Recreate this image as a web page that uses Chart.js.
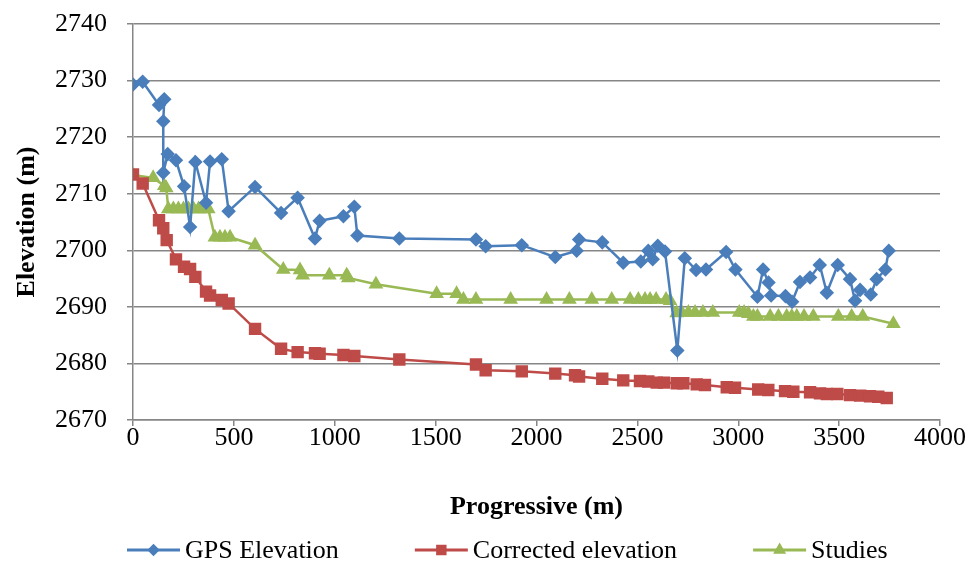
<!DOCTYPE html>
<html>
<head>
<meta charset="utf-8">
<script src="https://cdn.jsdelivr.net/npm/chart.js@4.4.1/dist/chart.umd.min.js"></script>
<style>
  html, body { margin: 0; padding: 0; background: #fff; }
</style>
</head>
<body>
<canvas id="chart" width="968" height="562"></canvas>
<script>
// axis ticks
const xTicks = [0, 500, 1000, 1500, 2000, 2500, 3000, 3500, 4000];
const yTicks = [2670, 2680, 2690, 2700, 2710, 2720, 2730, 2740];

// GPS Elevation
const gpsX = [0, 48, 129, 155, 150, 150, 172, 213, 253, 283, 309, 362, 382, 440, 474, 605, 734, 816, 902, 925,
  1043, 1097, 1112, 1320, 1700, 1748, 1927, 2093, 2199, 2211, 2326, 2430, 2517, 2554, 2576, 2601, 2637, 2698, 2735, 2791,
  2840, 2940, 2986, 3095, 3123, 3150, 3163, 3234, 3267, 3306, 3356, 3404, 3439, 3493, 3554, 3579, 3604, 3657, 3686, 3729, 3746];
const gpsY = [2729.3, 2729.8, 2725.7, 2726.7, 2722.8, 2713.7, 2717.0, 2715.9, 2711.3, 2704.1, 2715.6, 2708.4, 2715.7, 2716.1, 2706.9, 2711.2, 2706.6, 2709.3, 2702.1, 2705.2,
  2706.0, 2707.7, 2702.6, 2702.1, 2701.9, 2700.7, 2700.9, 2698.8, 2699.9, 2701.9, 2701.4, 2697.8, 2698.0, 2699.9, 2698.4, 2700.8, 2699.8, 2682.3, 2698.6, 2696.5,
  2696.6, 2699.7, 2696.6, 2691.8, 2696.6, 2694.3, 2692.0, 2691.9, 2690.9, 2694.4, 2695.2, 2697.4, 2692.5, 2697.4, 2694.9, 2691.1, 2693.0, 2692.2, 2694.9, 2696.6, 2699.9];

// Corrected elevation
const corrX = [0, 48, 129, 150, 167, 213, 253, 283, 309, 362, 382, 440, 474, 605, 734, 816, 902, 925, 1043, 1097,
  1320, 1700, 1748, 1927, 2093, 2191, 2211, 2326, 2430, 2513, 2554, 2596, 2632, 2695, 2728, 2794, 2835, 2943, 2984, 3099,
  3149, 3232, 3273, 3356, 3405, 3439, 3491, 3554, 3604, 3653, 3694, 3736];
const corrY = [2713.4, 2711.8, 2705.3, 2703.9, 2701.8, 2698.4, 2697.1, 2696.7, 2695.3, 2692.7, 2692.0, 2691.2, 2690.6, 2686.1, 2682.6, 2682.0, 2681.8, 2681.7, 2681.5, 2681.3,
  2680.7, 2679.8, 2678.8, 2678.6, 2678.2, 2677.9, 2677.7, 2677.3, 2677.0, 2676.9, 2676.8, 2676.6, 2676.6, 2676.5, 2676.5, 2676.3, 2676.2, 2675.8, 2675.7, 2675.4,
  2675.3, 2675.1, 2675.0, 2674.9, 2674.7, 2674.6, 2674.6, 2674.4, 2674.3, 2674.2, 2674.1, 2673.9];

// Studies
const studX = [0, 100, 155, 165, 175, 200, 225, 250, 275, 300, 325, 350, 373, 406, 431, 456, 481, 605, 745, 828,
  841, 973, 1059, 1067, 1204, 1505, 1604, 1638, 1700, 1872, 2050, 2163, 2274, 2373, 2464, 2505, 2538, 2563, 2593, 2642,
  2662, 2695, 2720, 2753, 2786, 2825, 2874, 3005, 3029, 3050, 3075, 3095, 3158, 3199, 3240, 3265, 3290, 3326, 3372, 3496,
  3562, 3617, 3769];
const studY = [2713.3, 2712.8, 2711.4, 2711.0, 2707.3, 2707.3, 2707.3, 2707.3, 2707.3, 2707.3, 2707.3, 2707.3, 2707.3, 2702.3, 2702.3, 2702.3, 2702.3, 2700.9, 2696.6, 2696.5,
  2695.6, 2695.6, 2695.6, 2695.1, 2694.0, 2692.3, 2692.3, 2691.3, 2691.3, 2691.3, 2691.3, 2691.3, 2691.3, 2691.3, 2691.3, 2691.3, 2691.3, 2691.3, 2691.3, 2691.3,
  2691.1, 2688.9, 2689.0, 2689.0, 2689.0, 2689.0, 2689.0, 2689.0, 2689.0, 2688.8, 2688.3, 2688.3, 2688.3, 2688.3, 2688.3, 2688.3, 2688.3, 2688.3, 2688.3, 2688.3,
  2688.3, 2688.3, 2687.0];

const toPoints = (xs, ys) => xs.map((x, i) => ({ x: x, y: ys[i] }));

const FONT = '"Liberation Serif", "Times New Roman", serif';
const GRID = '#868686';

// line + marker legend under the x axis title
const bottomLegend = {
    id: 'bottomLegend',
    afterDraw(chart) {
        const ctx = chart.ctx;
        const y = 550;
        let x = chart.chartArea.left - 6;
        ctx.save();
        ctx.font = '26px ' + FONT;
        ctx.textBaseline = 'middle';
        chart.data.datasets.forEach(ds => {
            ctx.strokeStyle = ds.borderColor;
            ctx.lineWidth = 3;
            ctx.beginPath();
            ctx.moveTo(x, y);
            ctx.lineTo(x + 53, y);
            ctx.stroke();
            ctx.fillStyle = ds.pointBackgroundColor;
            ctx.strokeStyle = ds.pointBackgroundColor;
            Chart.helpers.drawPoint(ctx, { pointStyle: ds.pointStyle, radius: ds.pointRadius * 0.75, rotation: 0, borderWidth: 1 }, x + 26.5, y);
            ctx.fillStyle = '#000';
            ctx.fillText(ds.label, x + 58, y + 1);
            x += 58 + ctx.measureText(ds.label).width + 76;
        });
        ctx.restore();
    }
};

const ctx = document.getElementById('chart').getContext('2d');
new Chart(ctx, {
    type: 'line',
    data: {
        datasets: [{
            label: 'GPS Elevation',
            data: toPoints(gpsX, gpsY),
            borderColor: '#4a7ebb',
            backgroundColor: '#4a7ebb',
            pointBackgroundColor: '#4a7ebb',
            pointBorderColor: '#4a7ebb',
            pointStyle: 'rectRot',
            pointRadius: 5.5,
            borderWidth: 2.5
        }, {
            label: 'Corrected elevation',
            data: toPoints(corrX, corrY),
            borderColor: '#be4b48',
            backgroundColor: '#be4b48',
            pointBackgroundColor: '#be4b48',
            pointBorderColor: '#be4b48',
            pointStyle: 'rect',
            pointRadius: 7,
            borderWidth: 2.5
        }, {
            label: 'Studies',
            data: toPoints(studX, studY),
            borderColor: '#98b954',
            backgroundColor: '#98b954',
            pointBackgroundColor: '#98b954',
            pointBorderColor: '#98b954',
            pointStyle: 'triangle',
            pointRadius: 6,
            borderWidth: 2.5
        }]
    },
    options: {
        responsive: false,
        animation: false,
        devicePixelRatio: 1,
        layout: { padding: { left: 0, right: 28, top: 24, bottom: 30 } },
        elements: { line: { tension: 0 }, point: { borderWidth: 1 } },
        scales: {
            x: {
                type: 'linear',
                min: xTicks[0],
                max: xTicks[xTicks.length - 1],
                afterBuildTicks: axis => { axis.ticks = xTicks.map(v => ({ value: v })); },
                afterFit: axis => { axis.height = 112; },
                border: { color: GRID, width: 1.5 },
                grid: { drawOnChartArea: false, drawTicks: true, tickLength: 6, color: GRID, lineWidth: 1.5 },
                ticks: { color: '#000', font: { family: FONT, size: 26 }, padding: -3, maxRotation: 0, callback: v => String(v) },
                title: { display: true, text: 'Progressive (m)', color: '#000', font: { family: FONT, size: 26, weight: 'bold' }, padding: { top: 0, bottom: 9 } }
            },
            y: {
                min: yTicks[0],
                max: yTicks[yTicks.length - 1],
                afterBuildTicks: axis => { axis.ticks = yTicks.map(v => ({ value: v })); },
                afterFit: axis => { axis.width = 133; axis.paddingTop = 0; axis.paddingBottom = 0; },
                border: { color: GRID, width: 1.5 },
                grid: { color: GRID, lineWidth: 1.5, tickLength: 6 },
                ticks: { color: '#000', font: { family: FONT, size: 26 }, padding: 20, callback: v => String(v) },
                title: { display: true, text: 'Elevation (m)', color: '#000', font: { family: FONT, size: 26, weight: 'bold' }, padding: { top: 12, bottom: 0 } }
            }
        },
        plugins: {
            legend: { display: false },
            tooltip: { enabled: false }
        }
    },
    plugins: [bottomLegend]
});
</script>
</body>
</html>
